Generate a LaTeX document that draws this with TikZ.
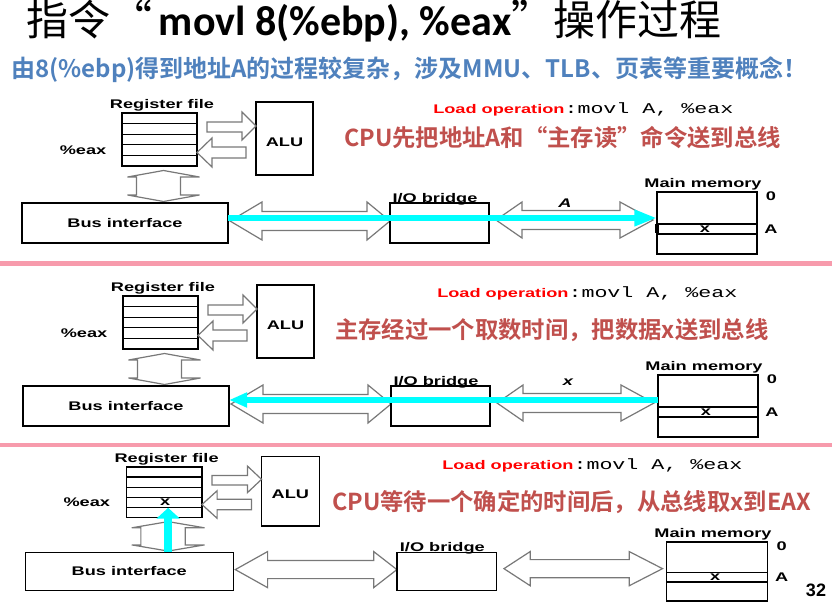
\documentclass[tikz,border=0pt]{standalone}
\usepackage{fontspec}
\setmainfont{Liberation Sans}
\newfontfamily\dgf[FakeStretch=1.45]{Liberation Sans}
\newfontfamily\dgm[FakeStretch=1.45]{Liberation Mono}
\newfontfamily\cjk{Noto Sans CJK SC}[BoldFont={Noto Sans CJK SC Bold}]
\newfontfamily\carl{Carlito}
\usetikzlibrary{arrows.meta,calc}

\definecolor{pinkband}{RGB}{247,155,172}
\definecolor{redtxt}{RGB}{192,80,77}
\definecolor{bluetxt}{RGB}{79,129,189}
\definecolor{cyanline}{RGB}{0,255,255}
\definecolor{arrgray}{RGB}{120,120,120}

\tikzset{
 box/.style={draw=black, line width=0.9pt, inner sep=0pt, outer sep=0pt, fill=white},
 lbl/.style={font=\dgf\bfseries\fontsize{9.4}{10}\selectfont, inner sep=0pt},
 ilbl/.style={font=\dgf\bfseries\itshape\fontsize{9.4}{10}\selectfont, inner sep=0pt},
 blockarr/.style={draw=arrgray, line width=0.9pt, fill=white, line join=miter},
 redline/.style={font=\cjk\bfseries\fontsize{17.5}{20}\selectfont, text=redtxt, inner sep=0pt, anchor=west},
 loadop/.style={anchor=base west, inner sep=0pt, font=\dgf\bfseries\fontsize{9.4}{10}\selectfont},
 cyanA/.style={draw=cyanline, line width=4.5pt, -{Triangle[length=17pt,width=11.5pt]}},
 cyanB/.style={draw=cyanline, line width=4.3pt, -{Triangle[length=13.5pt,width=10.5pt]}},
 cyanC/.style={draw=cyanline, line width=6pt, -{Triangle[length=8pt,width=17pt]}},
}

\newcommand\psx{1}
\newcommand\psy{1}
\newcommand\bx[5]{\node[box, minimum width={(#4-#2)*\psx*0.75pt}, minimum height={(#5-#3)*\psy*0.75pt}] (#1) at ({(#2+#4)/2},{(#3+#5)/2}) {};}
\newcommand\hdarr[7]{%
 \draw[blockarr] (#1,#5) -- (#2,{#5-#6}) -- (#2,{#5-#7}) -- (#3,{#5-#7}) -- (#3,{#5-#6}) -- (#4,#5) -- (#3,{#5+#6}) -- (#3,{#5+#7}) -- (#2,{#5+#7}) -- (#2,{#5+#6}) -- cycle;}
\newcommand\vdarr{\draw[blockarr] (163.5,170.5) -- (199.5,177) -- (180.5,177) -- (180.5,195) -- (199.5,195) -- (163.5,201.5) -- (127.5,195) -- (136.5,195) -- (136.5,177) -- (127.5,177) -- cycle;}
\newcommand\loadop{\textcolor{red}{Load operation}{\dgm\mdseries\fontsize{11.2}{12}\selectfont :movl A, \%eax}}

\newcommand\panelbody[1]{%
 \node[lbl] (rflab#1) at (162,104.8) {Register file};
 \bx{rf#1}{122}{113}{197}{166}
 \foreach \k in {1,2,3,4} \draw[line width=0.9pt] ($(rf#1.north west)!\k/5!(rf#1.south west)$) -- ($(rf#1.north east)!\k/5!(rf#1.south east)$);
 \node[lbl] (eax#1) at (83,150) {\%eax};
 \bx{alu#1}{256}{102}{313}{175}
 \node[lbl] (alulab#1) at (284.5,142) {ALU};
 \draw[blockarr] (207,122) -- (242,122) -- (242,112) -- (256,126) -- (242,140) -- (242,132) -- (207,132) -- cycle;
 \draw[blockarr] (246,147) -- (212,147) -- (212,138) -- (197,152.5) -- (212,167) -- (212,158) -- (246,158) -- cycle;
 \vdarr
 \bx{bus#1}{22}{203}{228}{243}
 \node[lbl] (buslab#1) at (125,223) {Bus interface};
 \hdarr{230}{262}{367}{390}{221}{19}{9.5}
 \bx{io#1}{390}{203}{489}{243}
 \node[lbl] (iolab#1) at (435,198.8) {I/O bridge};
 \hdarr{496}{522}{620}{653}{220}{18}{9.5}
 \bx{mem#1}{657}{192}{757}{254}
 \draw[line width=0.9pt] (657,224) -- (757,224) (657,234) -- (757,234);
 \node[lbl] (x#1) at (705,229) {x};
 \node[lbl] (memlab#1) at (703,183.8) {Main memory};
 \node[lbl] (zero#1) at (771,196) {0};
 \node[lbl] (addr#1) at (771,229) {A};
}

\begin{document}
\begin{tikzpicture}[x=0.75pt,y=-0.75pt]
\useasboundingbox (0,0) rectangle (832,602);
\fill[white] (0,0) rectangle (832,602);

% title and subtitle
\node[anchor=base west, inner sep=0pt] (title) at (26,35.5) {\fontsize{31.5}{34}\selectfont\cjk 指令“\kern5pt{\carl\bfseries movl 8(\%ebp), \%eax}”操作过程};
\node[anchor=west, inner sep=0pt, font=\cjk\bfseries\fontsize{18}{20}\selectfont, text=bluetxt] (sub) at (11,69.5) {由8(\%ebp)得到地址A的过程较复杂，涉及MMU、TLB、页表等重要概念！};

% separators
\fill[pinkband] (0,261) rectangle (832,266);
\fill[pinkband] (0,442.5) rectangle (832,447);

% panel 1
\begin{scope}
 \panelbody{A}
 \fill (655,224.5) rectangle (658.5,233.5);
 \node[ilbl] (labA) at (565,203) {A};
 \coordinate (yA) at (0,218);
 \draw[cyanA] (busA.east |- yA) -- (memA.west |- yA);
\end{scope}
\node[loadop] (ldA) at (433,113.5) {\loadop};
\node[redline] (redA) at (344,138) {CPU先把地址A和“主存读”命令送到总线};

% panel 2
\begin{scope}[shift={(1,183)}]
 \panelbody{B}
 \node[ilbl] (labB) at (567,199) {x};
 \coordinate (yB) at (0,217);
 \draw[cyanB] (memB.west |- yB) -- (busB.east |- yB);
\end{scope}
\node[loadop] (ldB) at (437,298) {\loadop};
\node[redline] (redB) at (335,330) {主存经过一个取数时间，把数据x送到总线};

% panel 3
\begin{scope}[shift={(3,359.65)}, xscale=1.01, yscale=0.95]
 \renewcommand\psx{1.01}\renewcommand\psy{0.95}
 \panelbody{C}
 \node[lbl] (rfxC) at (160.5,150) {x};
 \coordinate (tipC) at (163.5,156);
 \draw[cyanC] (busC.north -| tipC) -- (tipC);
\end{scope}
\node[loadop] (ldC) at (442,469) {\loadop};
\node[redline] (redC) at (332,502) {CPU等待一个确定的时间后，从总线取x到EAX};

\node[font=\bfseries\fontsize{13.5}{14}\selectfont, inner sep=0pt] (pnum) at (816,590) {32};
\end{tikzpicture}
\end{document}
